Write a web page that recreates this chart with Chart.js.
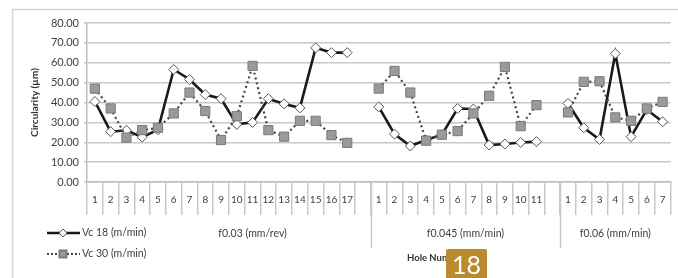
<!DOCTYPE html>
<html>
<head>
<meta charset="utf-8">
<script src="https://cdn.jsdelivr.net/npm/chart.js@4.4.0/dist/chart.umd.min.js"></script>
<style>
  html, body { margin: 0; padding: 0; background: #fff; }
  #wrap { position: relative; width: 678px; height: 278px; }
  #badge {
    position: absolute; left: 446px; top: 249px; width: 41px; height: 29px;
    background: #b98a2f; color: #fff; font-family: Lato, sans-serif; font-size: 25px;
    line-height: 31px; text-align: center; border-radius: 2px 2px 0 0;
  }
</style>
</head>
<body>
<div id="wrap">
  <canvas id="myChart" width="678" height="278"></canvas>
  <div id="badge">18</div>
</div>
<script>
// feed groups (second level of the category axis)
const groupNames = ['f0.03 (mm/rev)', 'f0.045 (mm/min)', 'f0.06 (mm/min)'];

// circularity (µm) per hole number, one array per feed
const vc18_f003 = [40.5, 25.3, 26.0, 22.6, 26.3, 56.6, 51.6, 44.0, 41.9, 29.0, 30.0, 41.9, 39.3, 37.3, 67.5, 65.1, 65.1];
const vc18_f0045 = [37.8, 24.1, 18.1, 21.1, 23.8, 37.0, 36.7, 18.6, 19.1, 19.9, 20.3];
const vc18_f006 = [39.5, 27.3, 21.4, 64.6, 22.8, 36.4, 30.3];

const vc30_f003 = [47.0, 37.0, 22.3, 26.1, 27.3, 34.5, 45.0, 35.7, 21.1, 33.1, 58.4, 26.1, 22.8, 30.8, 30.8, 23.6, 19.7];
const vc30_f0045 = [47.0, 55.9, 45.0, 20.8, 23.8, 25.6, 34.5, 43.4, 57.9, 28.1, 38.7];
const vc30_f006 = [35.0, 50.4, 50.7, 32.5, 30.8, 37.0, 40.3];

const yTicks = [0, 10, 20, 30, 40, 50, 60, 70, 80];

// build flat category list: holes of each feed, with one empty slot between feeds
function flatten(parts) {
    const out = [];
    parts.forEach((p, i) => {
        out.push(...p);
        if (i < parts.length - 1) out.push(null);
    });
    return out;
}
const labels = flatten([vc18_f003, vc18_f0045, vc18_f006].map(p => p.map((v, i) => String(i + 1))))
    .map(l => l === null ? '' : l);
const dataVc18 = flatten([vc18_f003, vc18_f0045, vc18_f006]);
const dataVc30 = flatten([vc30_f003, vc30_f0045, vc30_f006]);

// index of the first and last slot of each group
const groupRanges = [];
(function() {
    let start = 0;
    [vc18_f003, vc18_f0045, vc18_f006].forEach((p, i, arr) => {
        const len = p.length + (i < arr.length - 1 ? 1 : 0);
        groupRanges.push([start, start + len - 1]);
        start += len;
    });
})();

const FONT = 'Lato, "Open Sans", sans-serif';
const TXT = '#404040';

const decor = {
    id: 'decor',
    beforeDraw(chart) {
        const ctx = chart.ctx;
        ctx.save();
        ctx.strokeStyle = '#d6d6d6';
        ctx.lineWidth = 1.5;
        ctx.strokeRect(12.5, 9.5, 700, 320);
        ctx.restore();
    },
    afterDraw(chart) {
        const ctx = chart.ctx;
        const x = chart.scales.x;
        const area = chart.chartArea;
        const half = (x.getPixelForValue(1) - x.getPixelForValue(0)) / 2;
        ctx.save();
        // long separators between feed groups
        ctx.strokeStyle = '#c8c8c8';
        ctx.lineWidth = 1.5;
        for (let g = 1; g < groupRanges.length; g++) {
            const px = Math.round(x.getPixelForValue(groupRanges[g][0]) - half) + 0.5;
            ctx.beginPath();
            ctx.moveTo(px, area.bottom);
            ctx.lineTo(px, 248);
            ctx.stroke();
        }
        // group labels
        ctx.fillStyle = TXT;
        ctx.font = '10.5px ' + FONT;
        ctx.textAlign = 'center';
        ctx.textBaseline = 'middle';
        groupRanges.forEach((r, g) => {
            let cx = (x.getPixelForValue(r[0]) + x.getPixelForValue(r[1])) / 2;
            if (g === 0) cx = x.getPixelForValue(10); // first label sits right of the legend
            ctx.fillText(groupNames[g], cx, 234);
        });
        // axis title
        ctx.font = 'bold 9.5px ' + FONT;
        ctx.textAlign = 'left';
        ctx.fillStyle = '#333';
        ctx.fillText('Hole Number', 407, 258);

        // legend
        const legendY = [233, 254];
        ctx.font = '10.5px ' + FONT;
        ctx.fillStyle = TXT;
        // Vc 18
        ctx.strokeStyle = '#1a1a1a';
        ctx.lineWidth = 2.5;
        ctx.beginPath();
        ctx.moveTo(47, legendY[0]); ctx.lineTo(80, legendY[0]);
        ctx.stroke();
        ctx.fillStyle = '#fff';
        ctx.strokeStyle = '#555';
        ctx.lineWidth = 1;
        ctx.beginPath();
        ctx.moveTo(59, legendY[0]); ctx.lineTo(63, legendY[0] - 4);
        ctx.lineTo(67, legendY[0]); ctx.lineTo(63, legendY[0] + 4);
        ctx.closePath();
        ctx.fill(); ctx.stroke();
        // Vc 30
        ctx.strokeStyle = '#444';
        ctx.lineWidth = 2;
        ctx.setLineDash([2, 2]);
        ctx.beginPath();
        ctx.moveTo(47, legendY[1]); ctx.lineTo(80, legendY[1]);
        ctx.stroke();
        ctx.setLineDash([]);
        ctx.fillStyle = '#9a9a9a';
        ctx.strokeStyle = '#7a7a7a';
        ctx.fillRect(59, legendY[1] - 4, 8, 8);
        ctx.strokeRect(59.5, legendY[1] - 3.5, 7, 7);
        ctx.fillStyle = TXT;
        ctx.textAlign = 'left';
        ctx.fillText('Vc 18 (m/min)', 82, legendY[0]);
        ctx.fillText('Vc 30 (m/min)', 82, legendY[1]);
        ctx.restore();
    }
};

window.addEventListener('load', function() {
    const ctx = document.getElementById('myChart').getContext('2d');
    new Chart(ctx, {
        type: 'line',
        data: {
            labels: labels,
            datasets: [{
                label: 'Vc 30 (m/min)',
                data: dataVc30,
                borderColor: '#444',
                borderWidth: 2.2,
                borderDash: [2, 3],
                pointStyle: 'rect',
                pointRadius: 6.5,
                pointBackgroundColor: '#9a9a9a',
                pointBorderColor: '#7a7a7a',
                pointBorderWidth: 1,
                spanGaps: false,
                tension: 0
            }, {
                label: 'Vc 18 (m/min)',
                data: dataVc18,
                borderColor: '#1a1a1a',
                borderWidth: 2.6,
                pointStyle: 'rectRot',
                pointRadius: 5,
                pointBackgroundColor: '#fff',
                pointBorderColor: '#555',
                pointBorderWidth: 1,
                spanGaps: false,
                tension: 0
            }]
        },
        options: {
            responsive: false,
            animation: false,
            layout: { padding: { top: 23, right: 2, left: 0, bottom: 0 } },
            scales: {
                x: {
                    type: 'category',
                    offset: true,
                    afterFit: s => { s.height = 96; },
                    grid: {
                        offset: true,
                        drawOnChartArea: false,
                        drawTicks: true,
                        tickLength: 33,
                        color: '#c8c8c8',
                        lineWidth: 1.5
                    },
                    border: { display: true, color: '#bdbdbd', width: 1.5 },
                    ticks: {
                        autoSkip: false,
                        maxRotation: 0,
                        padding: -21,
                        color: TXT,
                        font: { family: FONT, size: 10 }
                    }
                },
                y: {
                    min: 0,
                    max: 80,
                    afterFit: s => { s.width = 87; },
                    afterBuildTicks: s => { s.ticks = yTicks.map(v => ({ value: v })); },
                    grid: { color: '#c8c8c8', lineWidth: 1.5, tickLength: 3 },
                    border: { display: true, color: '#bdbdbd', width: 1.5 },
                    ticks: {
                        padding: 5,
                        color: TXT,
                        font: { family: FONT, size: 11 },
                        callback: v => Number(v).toFixed(2)
                    },
                    title: {
                        display: true,
                        text: 'Circularity (µm)',
                        color: '#333',
                        font: { family: FONT, size: 10, weight: 'bold' },
                        padding: { top: 29, bottom: 0 }
                    }
                }
            },
            plugins: {
                legend: { display: false },
                tooltip: { enabled: false }
            }
        },
        plugins: [decor]
    });
});
</script>
</body>
</html>
